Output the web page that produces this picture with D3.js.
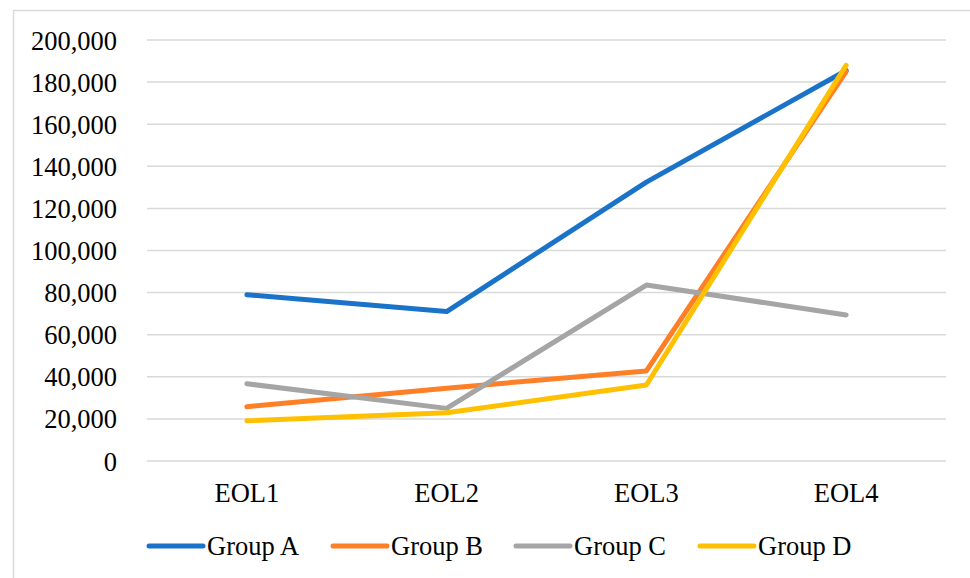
<!DOCTYPE html>
<html>
<head>
<meta charset="utf-8">
<script src="https://cdn.jsdelivr.net/npm/d3@7"></script>
<style>
  html, body { margin: 0; padding: 0; background: #fff; }
  svg { display: block; }
  text { font-family: "Liberation Serif", "Times New Roman", serif; fill: #000; }
</style>
</head>
<body>
<svg id="chart" width="970" height="578"></svg>
<script>
// Chart data
const categories = ["EOL1", "EOL2", "EOL3", "EOL4"];
const seriesNames = ["Group A", "Group B", "Group C", "Group D"];
const groupA = [79000, 71000, 132500, 185500];
const groupB = [25800, 34600, 42800, 185000];
const groupC = [36700, 25000, 83600, 69400];
const groupD = [19100, 22900, 36100, 188000];
const yTicks = [0, 20000, 40000, 60000, 80000, 100000, 120000, 140000, 160000, 180000, 200000];
const colors = ["#1b73c9", "#ff7f27", "#a5a5a5", "#ffc000"];

const series = [groupA, groupB, groupC, groupD].map((values, i) => ({
  name: seriesNames[i], color: colors[i], values
}));

const svg = d3.select("#chart");
const W = 970, H = 578;
const plot = { left: 147, right: 946, top: 40, bottom: 461 };
const fontSize = 26.5;

// Outer frame
svg.append("rect")
  .attr("x", 13.5).attr("y", 10.5)
  .attr("width", W + 10).attr("height", H + 10)
  .attr("fill", "none").attr("stroke", "#d9d9d9").attr("stroke-width", 1.5);

const x = d3.scaleBand().domain(categories).range([plot.left, plot.right]);
const y = d3.scaleLinear().domain([0, 200000]).range([plot.bottom, plot.top]);

// Horizontal gridlines
svg.append("g")
  .selectAll("line")
  .data(yTicks)
  .join("line")
  .attr("x1", plot.left).attr("x2", plot.right)
  .attr("y1", d => y(d)).attr("y2", d => y(d))
  .attr("stroke", "#d9d9d9").attr("stroke-width", 1.5);

// Y axis labels
const yAxis = d3.axisLeft(y).tickValues(yTicks).tickFormat(d3.format(",")).tickSize(0).tickPadding(0);
const gy = svg.append("g").attr("transform", "translate(117,0)").call(yAxis);
gy.select(".domain").remove();
gy.selectAll("text")
  .attr("font-family", "Liberation Serif, Times New Roman, serif")
  .attr("font-size", fontSize)
  .attr("fill", "#000")
  .attr("dy", "0.34em");

// X axis labels
const xAxis = d3.axisBottom(x).tickSize(0).tickPadding(0);
const gx = svg.append("g").attr("transform", `translate(0,${502})`).call(xAxis);
gx.select(".domain").remove();
gx.selectAll("text")
  .attr("font-family", "Liberation Serif, Times New Roman, serif")
  .attr("font-size", fontSize)
  .attr("fill", "#000")
  .attr("dy", 0)
  .attr("y", 0);

// Series lines
const line = d3.line()
  .x((d, i) => x(categories[i]) + x.bandwidth() / 2)
  .y(d => y(d));

svg.append("g")
  .selectAll("path")
  .data(series)
  .join("path")
  .attr("d", d => line(d.values))
  .attr("fill", "none")
  .attr("stroke", d => d.color)
  .attr("stroke-width", 5)
  .attr("stroke-linecap", "round")
  .attr("stroke-linejoin", "round");

// Legend
const legendX = [149, 333, 516, 700];
const legendY = 546;
const lg = svg.append("g")
  .selectAll("g")
  .data(series)
  .join("g")
  .attr("transform", (d, i) => `translate(${legendX[i]},${legendY})`);
lg.append("line")
  .attr("x1", 0).attr("x2", 54)
  .attr("stroke", d => d.color)
  .attr("stroke-width", 5)
  .attr("stroke-linecap", "round");
lg.append("text")
  .attr("x", 58)
  .attr("y", 0)
  .attr("dy", "0.34em")
  .attr("font-size", fontSize)
  .text(d => d.name);
</script>
</body>
</html>
